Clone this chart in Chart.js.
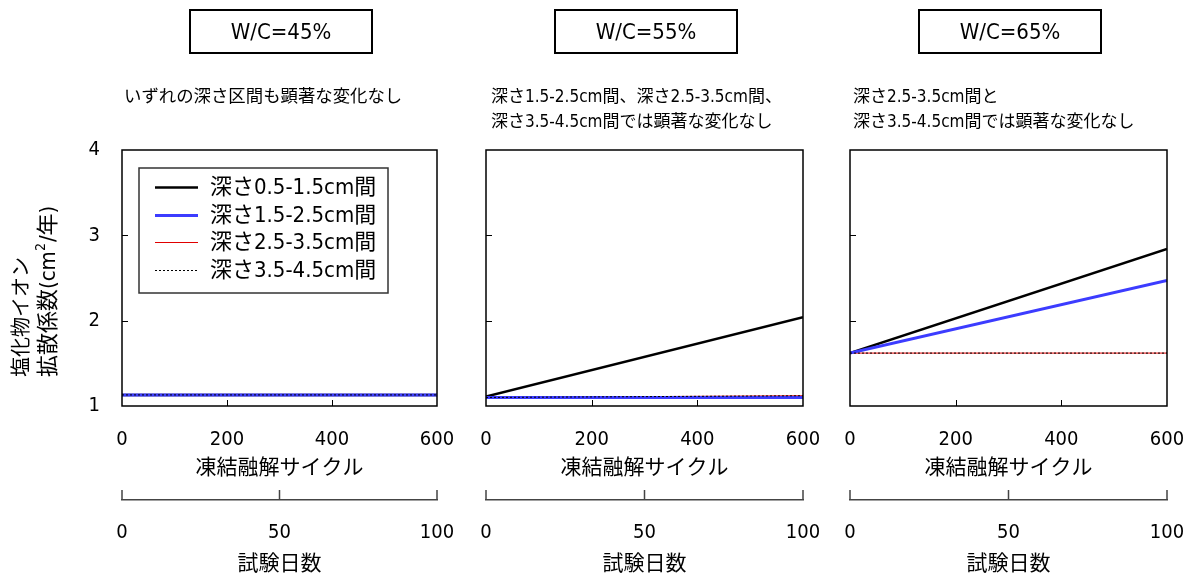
<!DOCTYPE html>
<html>
<head>
<meta charset="utf-8">
<script src="https://cdn.jsdelivr.net/npm/chart.js@4/dist/chart.umd.min.js"></script>
<style>
  body { margin: 0; background: #fff; }
  #wrap { position: relative; width: 1191px; height: 575px; overflow: hidden; }
  canvas { position: absolute; top: 0; }
  .wc { position: absolute; top: 9px; width: 184px; height: 45px; box-sizing: border-box;
        border: 2px solid #000; font: 22px 'DejaVu Sans Condensed', 'DejaVu Sans', sans-serif;
        line-height: 41px; text-align: center; color: #000; }
  .note { position: absolute; top: 84px; font: 17px 'DejaVu Sans Condensed', 'Noto Sans CJK JP', sans-serif;
          line-height: 25px; color: #000; white-space: nowrap; }
</style>
</head>
<body>
<div id="wrap">
  <canvas id="c1" width="460" height="575" style="left:0px"></canvas>
  <canvas id="c2" width="365" height="575" style="left:460px"></canvas>
  <canvas id="c3" width="366" height="575" style="left:825px"></canvas>
  <div class="wc" style="left:189px">W/C=45%</div>
  <div class="wc" style="left:554px">W/C=55%</div>
  <div class="wc" style="left:918px">W/C=65%</div>
  <div class="note" style="left:124px; font-size:17.4px">いずれの深さ区間も顕著な変化なし</div>
  <div class="note" style="left:491px">深さ1.5-2.5cm間、深さ2.5-3.5cm間、<br>深さ3.5-4.5cm間では顕著な変化なし</div>
  <div class="note" style="left:853px">深さ2.5-3.5cm間と<br>深さ3.5-4.5cm間では顕著な変化なし</div>
</div>
<script>
// データ
const cycles = [0, 600];
const seriesLabels = ['深さ0.5-1.5cm間', '深さ1.5-2.5cm間', '深さ2.5-3.5cm間', '深さ3.5-4.5cm間'];

// W/C=45%
const d05_45 = [1.13, 1.13];
const d15_45 = [1.13, 1.13];
const d25_45 = [1.13, 1.13];
const d35_45 = [1.13, 1.13];
// W/C=55%
const d05_55 = [1.11, 2.04];
const d15_55 = [1.10, 1.10];
const d25_55 = [1.10, 1.12];
const d35_55 = [1.10, 1.12];
// W/C=65%
const d05_65 = [1.62, 2.84];
const d15_65 = [1.62, 2.47];
const d25_65 = [1.62, 1.62];
const d35_65 = [1.62, 1.62];

const xTicks = [0, 200, 400, 600];
const dayTicks = [0, 50, 100];
const yTicks = [1, 2, 3, 4];

const fam = "'DejaVu Sans Condensed', 'DejaVu Sans', 'Noto Sans CJK JP', sans-serif";
const jp = "'Noto Sans CJK JP', sans-serif";

const styles = [
    { borderColor: '#000000', borderWidth: 2.5, order: 3 },
    { borderColor: '#3c3cff', borderWidth: 3, order: 1 },
    { borderColor: '#e00000', borderWidth: 1, order: 2 },
    { borderColor: '#000000', borderWidth: 1, borderDash: [2, 2], order: 0 }
];

// 枠と内向きの目盛り
const frame = {
    id: 'frame',
    afterDatasetsDraw(chart) {
        const { ctx, chartArea: a, scales } = chart;
        ctx.save();
        ctx.strokeStyle = '#000';
        ctx.lineWidth = 1.5;
        ctx.strokeRect(a.left, a.top, a.width, a.height);
        ctx.lineWidth = 1;
        ctx.beginPath();
        scales.x.ticks.forEach(t => {
            if (t.value === scales.x.min || t.value === scales.x.max) return;
            const px = Math.round(scales.x.getPixelForValue(t.value)) + 0.5;
            ctx.moveTo(px, a.bottom);
            ctx.lineTo(px, a.bottom - 6);
        });
        scales.y.ticks.forEach(t => {
            if (t.value === scales.y.min || t.value === scales.y.max) return;
            const py = Math.round(scales.y.getPixelForValue(t.value)) + 0.5;
            ctx.moveTo(a.left, py);
            ctx.lineTo(a.left + 6, py);
        });
        ctx.stroke();
        // 試験日数の軸 (上向き目盛り)
        const s2 = scales.x2;
        ctx.strokeStyle = '#444';
        ctx.lineWidth = 1.5;
        ctx.beginPath();
        s2.ticks.forEach(t => {
            const px = s2.getPixelForValue(t.value);
            ctx.moveTo(px, s2.top);
            ctx.lineTo(px, s2.top - 10);
        });
        ctx.stroke();
        ctx.restore();
    }
};

// 凡例 (枠付き)
const legendBox = {
    id: 'legendBox',
    afterDatasetsDraw(chart) {
        const { ctx, chartArea: a } = chart;
        const bx = a.left + 17, by = a.top + 18, bw = 249, bh = 125;
        ctx.save();
        ctx.strokeStyle = '#333';
        ctx.lineWidth = 1.5;
        ctx.strokeRect(bx, by, bw, bh);
        chart.data.datasets.forEach((ds, i) => {
            const y = Math.round(by + 19 + i * 27.7) + 0.5;
            ctx.beginPath();
            ctx.setLineDash(ds.borderDash || []);
            ctx.lineWidth = ds.borderWidth;
            ctx.strokeStyle = ds.borderColor;
            ctx.moveTo(bx + 16, y);
            ctx.lineTo(bx + 59, y);
            ctx.stroke();
            ctx.setLineDash([]);
            ctx.fillStyle = '#000';
            ctx.font = '22px ' + fam;
            ctx.textBaseline = 'middle';
            ctx.textAlign = 'left';
            ctx.fillText(ds.label, bx + 71, y + 1);
        });
        ctx.restore();
    }
};

// 縦軸タイトル (2行、上付き2)
const yTitle = {
    id: 'yTitle',
    afterDraw(chart) {
        const ctx = chart.ctx;
        ctx.save();
        ctx.fillStyle = '#000';
        ctx.textBaseline = 'middle';
        ctx.textAlign = 'left';
        ctx.font = '20px ' + jp;
        ctx.translate(20, 377);
        ctx.rotate(-Math.PI / 2);
        ctx.fillText('塩化物イオン', 0, 0);
        ctx.restore();

        ctx.save();
        ctx.fillStyle = '#000';
        ctx.textBaseline = 'middle';
        ctx.textAlign = 'left';
        ctx.translate(49, 377);
        ctx.rotate(-Math.PI / 2);
        let x = 0;
        ctx.font = '22px ' + fam;
        ctx.fillText('拡散係数(cm', x, 0);
        x += ctx.measureText('拡散係数(cm').width;
        ctx.font = '14px ' + fam;
        ctx.fillText('2', x, -8);
        x += ctx.measureText('2').width + 1;
        ctx.font = '22px ' + fam;
        ctx.fillText('/年)', x, 0);
        ctx.restore();
    }
};

function noPad(s) {
    s.paddingLeft = 0;
    s.paddingRight = 0;
    s.paddingTop = 0;
    s.paddingBottom = 0;
}

function makePanel(id, values, yWidth, rightPad, first) {
    const datasets = values.map((vals, i) => Object.assign({
        label: seriesLabels[i],
        data: cycles.map((c, j) => ({ x: c, y: vals[j] })),
        pointRadius: 0,
        fill: false,
        tension: 0
    }, styles[i]));

    const ctx = document.getElementById(id).getContext('2d');
    return new Chart(ctx, {
        type: 'line',
        data: { datasets: datasets },
        options: {
            responsive: false,
            animation: false,
            layout: { padding: { top: 150, right: rightPad, left: 0, bottom: 0 } },
            plugins: { legend: { display: false }, tooltip: { enabled: false } },
            scales: {
                x: {
                    type: 'linear', position: 'bottom', weight: 0,
                    min: xTicks[0], max: xTicks[xTicks.length - 1],
                    afterBuildTicks: s => { s.ticks = xTicks.map(v => ({ value: v })); },
                    ticks: { padding: 22, color: '#000', font: { family: fam, size: 20 } },
                    grid: { display: false, drawTicks: false },
                    border: { display: false },
                    title: { display: true, text: '凍結融解サイクル', color: '#000',
                             font: { family: jp, size: 21 }, padding: { top: 0, bottom: 21 } },
                    afterFit: s => { s.height = 94; noPad(s); }
                },
                x2: {
                    type: 'linear', position: 'bottom', weight: 1,
                    min: dayTicks[0], max: dayTicks[dayTicks.length - 1],
                    afterBuildTicks: s => { s.ticks = dayTicks.map(v => ({ value: v })); },
                    ticks: { padding: 21, color: '#000', font: { family: fam, size: 20 } },
                    grid: { display: false, drawTicks: false },
                    border: { display: true, color: '#444', width: 1.5 },
                    title: { display: true, text: '試験日数', color: '#000',
                             font: { family: jp, size: 21 }, padding: { top: 0, bottom: 0 } },
                    afterFit: s => { s.height = 75; noPad(s); }
                },
                y: {
                    type: 'linear', min: yTicks[0], max: yTicks[yTicks.length - 1],
                    afterBuildTicks: s => { s.ticks = yTicks.map(v => ({ value: v })); },
                    ticks: { display: first, padding: 22, color: '#000', font: { family: fam, size: 20 } },
                    grid: { display: false, drawTicks: false },
                    border: { display: false },
                    afterFit: s => { s.width = yWidth; noPad(s); }
                }
            }
        },
        plugins: first ? [frame, legendBox, yTitle] : [frame]
    });
}

makePanel('c1', [d05_45, d15_45, d25_45, d35_45], 122, 23, true);
makePanel('c2', [d05_55, d15_55, d25_55, d35_55], 26, 22, false);
makePanel('c3', [d05_65, d15_65, d25_65, d35_65], 25, 24, false);
</script>
</body>
</html>
